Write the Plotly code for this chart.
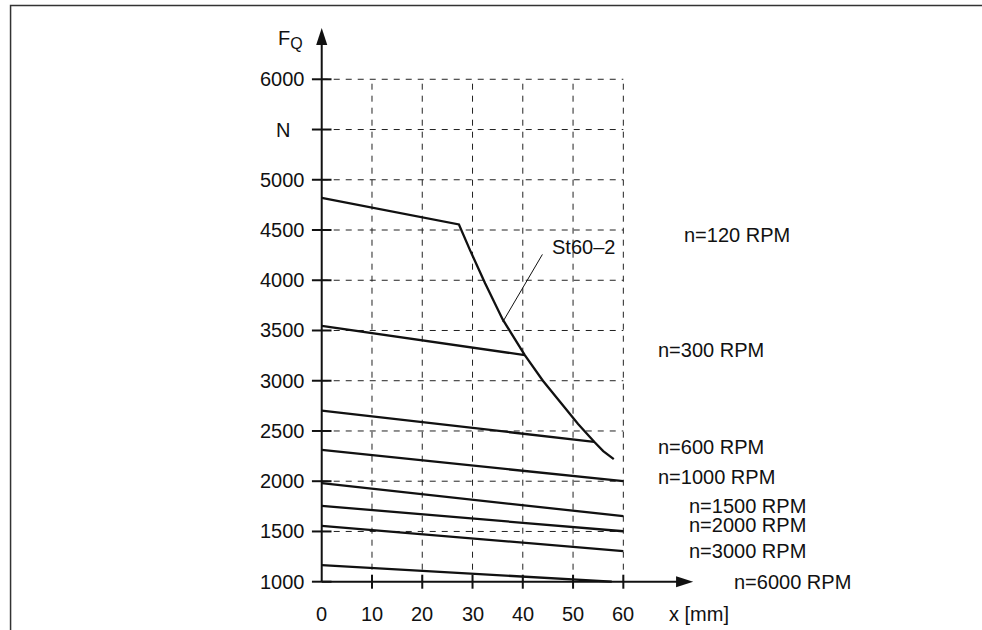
import plotly.graph_objects as go

# --- data ----------------------------------------------------------------
# limit curve for shaft material St60-2 (n=120 RPM runs along it)
st60_x = [0, 27.3, 29.5, 32.5, 36.0, 40.4, 44.0, 48.0, 51.0, 54.2, 56.0, 58.1]
st60_y = [4820, 4555, 4300, 3970, 3610, 3255, 3000, 2757, 2570, 2392, 2300, 2220]

speed_labels = ["n=300 RPM", "n=600 RPM", "n=1000 RPM", "n=1500 RPM",
                "n=2000 RPM", "n=3000 RPM", "n=6000 RPM"]
speed_x = [[0, 40.4], [0, 54.2], [0, 60], [0, 60], [0, 60], [0, 60], [0, 57.7]]
speed_y = [[3545, 3255], [2702, 2392], [2311, 2000], [1980, 1652],
           [1755, 1502], [1555, 1305], [1165, 1000]]

# right-hand labels: text, x, y (data units)
label_text = ["n=120 RPM"] + speed_labels
label_x = [71.7, 66.5, 66.5, 66.5, 72.6, 72.6, 72.6, 81.6]
label_y = [4450, 3306, 2344, 2045, 1753, 1563, 1306, 1000]

y_ticks = [1000, 1500, 2000, 2500, 3000, 3500, 4000, 4500, 5000, 5500, 6000]
y_tick_text = ["1000", "1500", "2000", "2500", "3000", "3500", "4000",
               "4500", "5000", "N", "6000"]
x_ticks = [0, 10, 20, 30, 40, 50, 60]

grid_y = [1500, 2000, 2500, 3000, 3500, 4000, 4500, 5000, 5500, 6000]
grid_x = [10, 20, 30, 40, 50, 60]

x_min, x_max = 0, 60
y_min, y_max = 1000, 6000
x_arrow_tip = 73.9
y_arrow_tip = 6511

# callout for the St60-2 curve
callout_x = [43.9, 36.0]
callout_y = [4257, 3584]

# page frame (left and top edge of the printed page)
frame_x = [-61.9, -61.9, 131.35]
frame_y = [519.3, 6734, 6734]

FONT = "Liberation Sans, Arial, sans-serif"
INK = "#111111"
GRID = "#222222"

fig = go.Figure()

fig.add_trace(go.Scatter(x=frame_x, y=frame_y, mode="lines",
                         line=dict(color="#333333", width=1.5), showlegend=False,
                         hoverinfo="skip"))

# dashed grid
for gy in grid_y:
    fig.add_trace(go.Scatter(x=[x_min, x_max], y=[gy, gy], mode="lines",
                             line=dict(color=GRID, width=1, dash="6px,6px"),
                             hoverinfo="skip", showlegend=False))
for gx in grid_x:
    fig.add_trace(go.Scatter(x=[gx, gx], y=[y_min, y_max], mode="lines",
                             line=dict(color=GRID, width=1, dash="6px,6px"),
                             hoverinfo="skip", showlegend=False))

# axes with arrows
fig.add_trace(go.Scatter(x=[0, 0], y=[y_min, y_arrow_tip - 60], mode="lines",
                         line=dict(color=INK, width=2), showlegend=False,
                         hoverinfo="skip"))
fig.add_trace(go.Scatter(x=[x_min, x_arrow_tip - 2], y=[y_min, y_min], mode="lines",
                         line=dict(color=INK, width=2), showlegend=False,
                         hoverinfo="skip"))
fig.add_trace(go.Scatter(x=[0], y=[y_arrow_tip], mode="markers",
                         marker=dict(symbol="arrow", size=18, color=INK, angle=0),
                         showlegend=False, hoverinfo="skip"))
fig.add_trace(go.Scatter(x=[x_arrow_tip], y=[y_min], mode="markers",
                         marker=dict(symbol="arrow", size=18, color=INK, angle=90),
                         showlegend=False, hoverinfo="skip"))

# tick marks crossing the axes
fig.add_trace(go.Scatter(x=[0] * len(y_ticks), y=y_ticks, mode="markers",
                         marker=dict(symbol="line-ew", size=14,
                                     line=dict(color=INK, width=2)),
                         showlegend=False, hoverinfo="skip"))
fig.add_trace(go.Scatter(x=x_ticks[1:], y=[y_min] * (len(x_ticks) - 1), mode="markers",
                         marker=dict(symbol="line-ns", size=10,
                                     line=dict(color=INK, width=2)),
                         showlegend=False, hoverinfo="skip"))

# curves
fig.add_trace(go.Scatter(x=st60_x, y=st60_y, mode="lines", name="St60-2",
                         line=dict(color=INK, width=2.3), showlegend=False))
for name, xs, ys in zip(speed_labels, speed_x, speed_y):
    fig.add_trace(go.Scatter(x=xs, y=ys, mode="lines", name=name,
                             line=dict(color=INK, width=2.3), showlegend=False))

fig.add_trace(go.Scatter(x=callout_x, y=callout_y, mode="lines",
                         line=dict(color=INK, width=1), showlegend=False,
                         hoverinfo="skip"))

# text
ann = []
for t, tx, ty in zip(y_tick_text, [-7.8] * len(y_ticks), y_ticks):
    ann.append(dict(x=tx, y=ty, text=t, xanchor="center", yanchor="middle"))
for xv in x_ticks:
    ann.append(dict(x=xv, y=678, text=str(xv), xanchor="center", yanchor="middle"))
for t, tx, ty in zip(label_text, label_x, label_y):
    ann.append(dict(x=tx, y=ty, text=t, xanchor="left", yanchor="middle"))
ann.append(dict(x=68.7, y=678, text="x [mm]", xanchor="left", yanchor="middle"))
ann.append(dict(x=52.1, y=4334, text="St60\u20132", xanchor="center", yanchor="middle"))
ann.append(dict(x=-3.4, y=6400, text="F<sub><span style='font-size:16px'>Q</span></sub>",
                xanchor="right", yanchor="middle"))
for a in ann:
    a.update(showarrow=False, xref="x", yref="y",
             font=dict(family=FONT, size=20, color=INK))

fig.update_layout(
    width=982, height=630,
    margin=dict(l=0, r=0, t=0, b=0),
    paper_bgcolor="white", plot_bgcolor="white",
    xaxis=dict(range=[-64.0, 131.35], visible=False, fixedrange=True),
    yaxis=dict(range=[519.3, 6789], visible=False, fixedrange=True),
    annotations=ann,
    font=dict(family=FONT, size=20, color=INK),
    showlegend=False,
)

# pin the graph div to the window corner so the page never scrolls
fig.write_html(
    "out.html", config={"displayModeBar": False},
    post_script=("document.body.style.margin='0';"
                 "document.body.style.overflow='hidden';"
                 "document.documentElement.style.overflow='hidden';"
                 "var d=document.getElementById('{plot_id}');"
                 "d.style.position='fixed';d.style.left='0';d.style.top='0';"))
